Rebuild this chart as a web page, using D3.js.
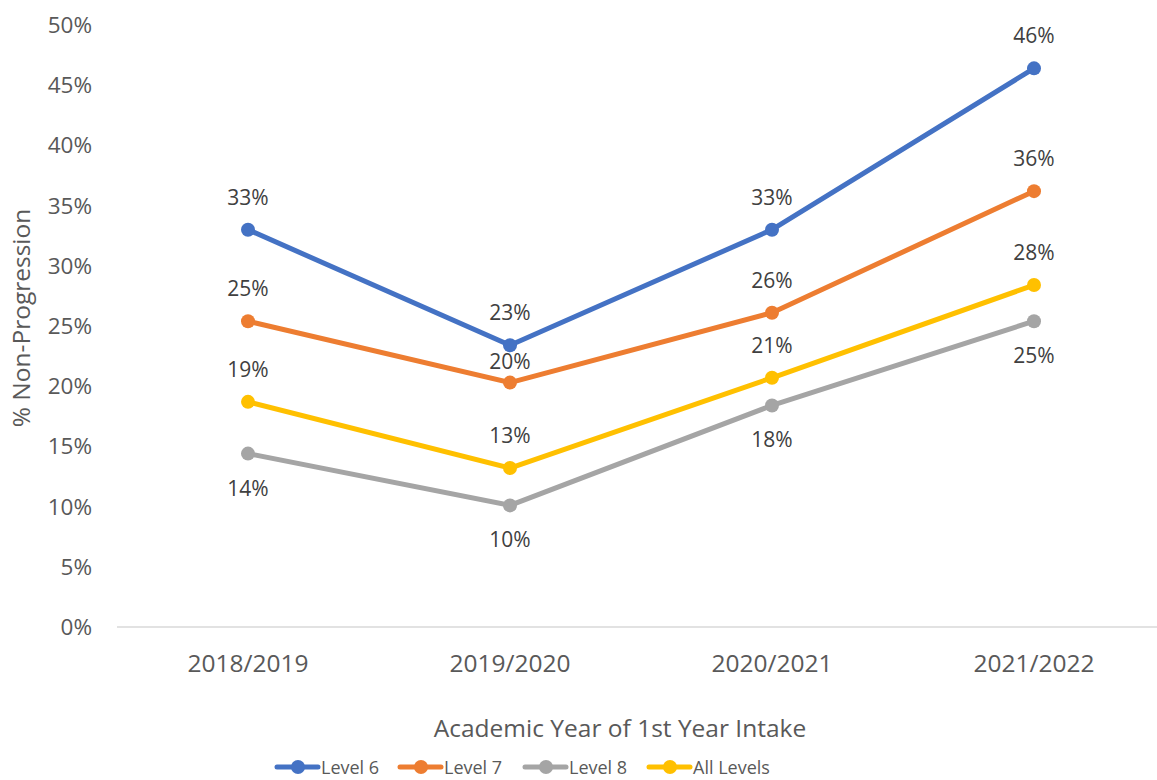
<!DOCTYPE html>
<html lang="en">
<head>
<meta charset="UTF-8">
<title>Non-Progression</title>
<script src="https://d3js.org/d3.v7.min.js"></script>
<style>
  body { margin: 0; background: #fff; }
  text { font-family: "Open Sans", "Noto Sans", sans-serif; fill: #595959; }
</style>
</head>
<body>
<script>
var years = ["2018/2019", "2019/2020", "2020/2021", "2021/2022"];
var level6 = [33.0, 23.4, 33.0, 46.4];
var level7 = [25.4, 20.3, 26.1, 36.2];
var level8 = [14.4, 10.1, 18.4, 25.4];
var allLevels = [18.7, 13.2, 20.7, 28.4];
var yTicks = [0, 5, 10, 15, 20, 25, 30, 35, 40, 45, 50];

var series = [
  { name: "Level 6", values: level6, color: "#4472C4", below: false },
  { name: "Level 7", values: level7, color: "#ED7D31", below: false },
  { name: "Level 8", values: level8, color: "#A5A5A5", below: true },
  { name: "All Levels", values: allLevels, color: "#FFC000", below: false }
];

var w = 1157, h = 780;
var svg = d3.select("body").append("svg").attr("width", w).attr("height", h);

var x = d3.scalePoint().domain(years).range([117, 1165]).padding(0.5);
var y = d3.scaleLinear().domain([0, 50]).range([627, 25]);

// y tick labels
svg.selectAll("text.ytick")
  .data(yTicks)
  .enter()
  .append("text")
  .attr("class", "ytick")
  .attr("x", 92)
  .attr("y", function (d) { return y(d) + 8; })
  .attr("text-anchor", "end")
  .attr("font-size", "22.5px")
  .text(function (d) { return d + "%"; });

// x axis line
svg.append("line")
  .attr("x1", 117).attr("x2", 1157)
  .attr("y1", y(0)).attr("y2", y(0))
  .attr("stroke", "#d9d9d9").attr("stroke-width", 1.3);

svg.selectAll("text.xtick")
  .data(years)
  .enter()
  .append("text")
  .attr("class", "xtick")
  .attr("x", function (d) { return x(d); })
  .attr("y", 672)
  .attr("text-anchor", "middle")
  .attr("font-size", "24.5px")
  .text(function (d) { return d; });

// axis titles
svg.append("text")
  .attr("x", 620).attr("y", 737)
  .attr("text-anchor", "middle")
  .attr("font-size", "24.5px")
  .text("Academic Year of 1st Year Intake");

svg.append("text")
  .attr("transform", "translate(30,318) rotate(-90)")
  .attr("text-anchor", "middle")
  .attr("font-size", "24.5px")
  .text("% Non-Progression");

var line = d3.line()
  .x(function (d, i) { return x(years[i]); })
  .y(function (d) { return y(d); });

series.forEach(function (s) {
  var g = svg.append("g");
  g.append("path")
    .attr("d", line(s.values))
    .attr("fill", "none")
    .attr("stroke", s.color)
    .attr("stroke-width", 5)
    .attr("stroke-linejoin", "round")
    .attr("stroke-linecap", "round");
  g.selectAll("circle")
    .data(s.values)
    .enter()
    .append("circle")
    .attr("cx", function (d, i) { return x(years[i]); })
    .attr("cy", function (d) { return y(d); })
    .attr("r", 7)
    .attr("fill", s.color);
});

// data labels drawn on top
series.forEach(function (s) {
  svg.selectAll(null)
    .data(s.values)
    .enter()
    .append("text")
    .attr("x", function (d, i) { return x(years[i]); })
    .attr("y", function (d, i) {
      var off = s.below ? 42 : -25;
      // Level 7 label in 2019/2020 sits closer to avoid the Level 6 label
      if (s.name === "Level 7" && i === 1) off = -14;
      return y(d) + off;
    })
    .attr("text-anchor", "middle")
    .attr("font-size", "21px")
    .style("fill", "#404040")
    .text(function (d) { return Math.round(d) + "%"; });
});

// legend
var legendX = [275, 398, 523, 647];
var lg = svg.selectAll("g.legend")
  .data(series)
  .enter()
  .append("g")
  .attr("class", "legend")
  .attr("transform", function (d, i) { return "translate(" + legendX[i] + ",767)"; });
lg.append("line")
  .attr("x1", 2).attr("x2", 43)
  .attr("stroke", function (d) { return d.color; })
  .attr("stroke-width", 5)
  .attr("stroke-linecap", "round");
lg.append("circle")
  .attr("cx", 23).attr("r", 7)
  .attr("fill", function (d) { return d.color; });
lg.append("text")
  .attr("x", 46).attr("y", 7)
  .attr("font-size", "18px")
  .text(function (d) { return d.name; });
</script>
</body>
</html>
